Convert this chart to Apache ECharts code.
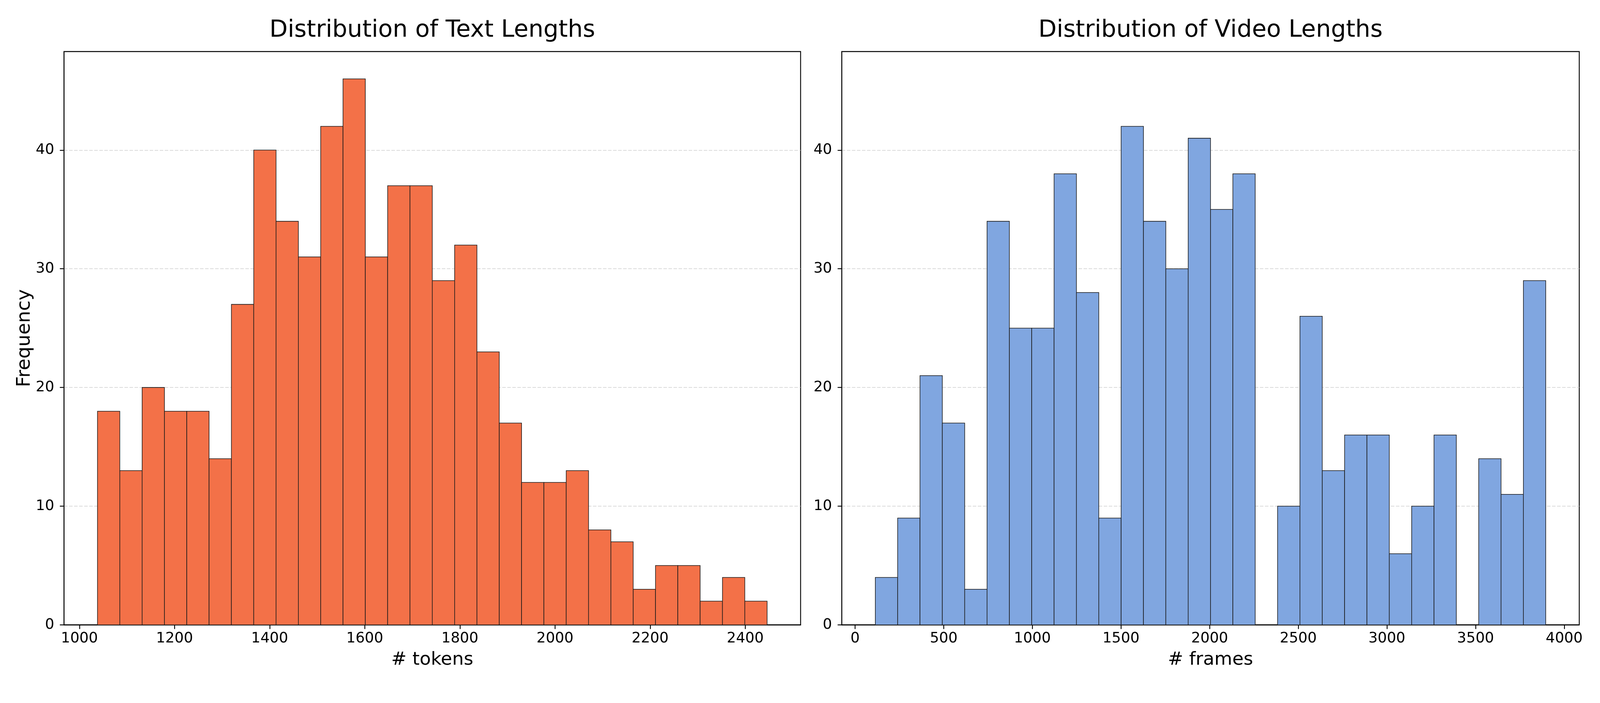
<!DOCTYPE html>
<html><head><meta charset="utf-8">
<script src="https://cdn.jsdelivr.net/npm/echarts@6/dist/echarts.min.js"></script>
<style>html,body{margin:0;padding:0;background:#fff;overflow:hidden;width:100%;height:100%}#c{width:100vw;height:100vh}</style>
</head><body><div id="c"></div>
<script>
// ---- data ----
const textCounts = [18,13,20,18,18,14,27,40,34,31,42,46,31,37,37,29,32,23,17,12,12,13,8,7,3,5,5,2,4,2];
const textBinStart = 1038;
const textBinEnd = 2446;
const videoCounts = [4,9,21,17,3,34,25,25,38,28,9,42,34,30,41,35,38,0,10,26,13,16,16,6,10,16,0,14,11,29];
const videoBinStart = 114;
const videoBinEnd = 3896;
const textTicks = [1000,1200,1400,1600,1800,2000,2200,2400];
const videoTicks = [0,500,1000,1500,2000,2500,3000,3500,4000];
const freqTicks = [0,10,20,30,40];
const titles = ['Distribution of Text Lengths', 'Distribution of Video Lengths'];
const xNames = ['# tokens', '# frames'];
const yName = 'Frequency';

const FONT = 'DejaVu Sans';
const el = document.getElementById('c');
const W = el.clientWidth || window.innerWidth, H = el.clientHeight || window.innerHeight;
const sx = W / 5400, sy = H / 1800, s = Math.min(sx, sy);
const X = v => v * sx, Y = v => v * sy, S = v => v * s;

function histData(counts, lo, hi) {
  const w = (hi - lo) / counts.length;
  const out = [];
  counts.forEach((c, i) => { if (c > 0) out.push([lo + i * w, lo + (i + 1) * w, c]); });
  return out;
}
function extent(lo, hi) { const m = (hi - lo) * 0.05; return [lo - m, hi + m]; }

function renderHist(color) {
  return function (params, api) {
    const a = api.coord([api.value(0), api.value(2)]);
    const b = api.coord([api.value(1), 0]);
    return { type: 'rect', shape: { x: a[0], y: a[1], width: b[0] - a[0], height: b[1] - a[1] },
      style: { fill: color, stroke: '#1a1a1a', lineWidth: S(2) } };
  };
}

const tE = extent(textBinStart, textBinEnd);
const vE = extent(videoBinStart, videoBinEnd);
const yMax = Math.max(...textCounts, ...videoCounts) * 1.05;

function xAxis(idx, ext, ticks, name) {
  return {
    type: 'value', gridIndex: idx, min: ext[0], max: ext[1],
    axisLine: { show: true, onZero: false, lineStyle: { color: '#000', width: S(3) } },
    axisTick: { show: true, customValues: ticks, length: S(14), lineStyle: { color: '#000', width: S(3) } },
    axisLabel: { customValues: ticks, formatter: v => String(v), fontSize: S(49), color: '#000', fontFamily: FONT, margin: S(22) },
    splitLine: { show: false },
    name: name, nameLocation: 'middle', nameGap: S(88),
    nameTextStyle: { fontSize: S(62), color: '#000', fontFamily: FONT }
  };
}
function yAxis(idx, name) {
  const o = {
    type: 'value', gridIndex: idx, min: 0, max: yMax,
    axisLine: { show: true, onZero: false, lineStyle: { color: '#000', width: S(3) } },
    axisTick: { show: true, customValues: freqTicks, length: S(14), lineStyle: { color: '#000', width: S(3) } },
    axisLabel: { customValues: freqTicks, formatter: v => String(v), fontSize: S(49), color: '#000', fontFamily: FONT, margin: S(33) },
    splitLine: { show: true, lineStyle: { color: '#d0d0d0', width: S(2), type: [S(12), S(5)] } }
  };
  if (name) {
    o.name = name; o.nameLocation = 'middle'; o.nameGap = S(100);
    o.nameTextStyle = { fontSize: S(64), color: '#000', fontFamily: FONT };
  }
  return o;
}

const grids = [
  { left: X(216), top: Y(132), width: X(2486), height: Y(1468) },
  { left: X(2841), top: Y(132), width: X(2489), height: Y(1468) }
].map(g => Object.assign(g, { show: true, borderColor: '#000', borderWidth: S(3), containLabel: false }));

const chart = echarts.init(el, null, { renderer: 'canvas', width: W, height: H });
chart.setOption({
  backgroundColor: '#fff',
  animation: false,
  textStyle: { fontFamily: FONT },
  grid: grids,
  xAxis: [xAxis(0, tE, textTicks, xNames[0]), xAxis(1, vE, videoTicks, xNames[1])],
  yAxis: [yAxis(0, yName), yAxis(1, null)],
  graphic: [
    { type: 'text', x: X(216 + 2486 / 2), y: Y(78), style: { text: titles[0], align: 'center', verticalAlign: 'middle', font: S(80) + 'px "DejaVu Sans"', fill: '#000' } },
    { type: 'text', x: X(2841 + 2489 / 2), y: Y(78), style: { text: titles[1], align: 'center', verticalAlign: 'middle', font: S(80) + 'px "DejaVu Sans"', fill: '#000' } }
  ],
  series: [
    { type: 'custom', xAxisIndex: 0, yAxisIndex: 0, renderItem: renderHist('#F37148'),
      encode: { x: [0, 1], y: 2 }, data: histData(textCounts, textBinStart, textBinEnd) },
    { type: 'custom', xAxisIndex: 1, yAxisIndex: 1, renderItem: renderHist('#80A6E0'),
      encode: { x: [0, 1], y: 2 }, data: histData(videoCounts, videoBinStart, videoBinEnd) }
  ]
});
</script></body></html>
